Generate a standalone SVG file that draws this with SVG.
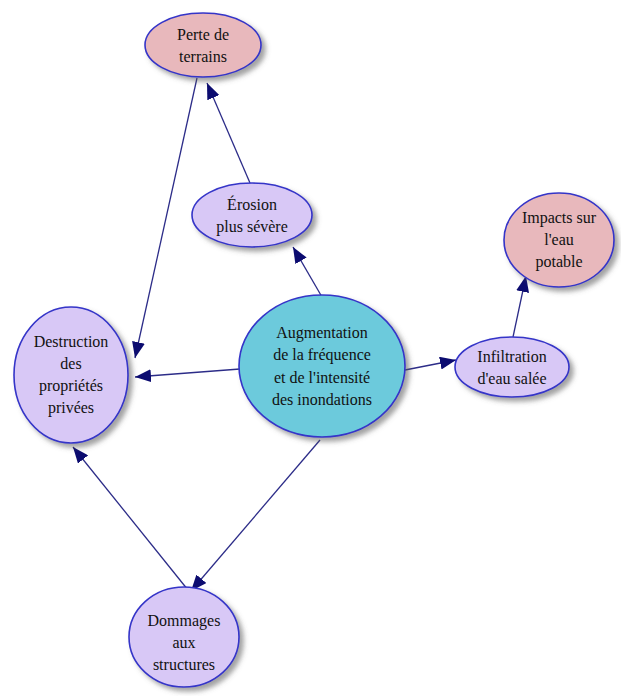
<svg xmlns="http://www.w3.org/2000/svg" width="621" height="696" viewBox="0 0 621 696">
<style>
.n{stroke:#3434c8;stroke-width:1.6}
.pink{fill:#e8b8bc}
.lav{fill:#d8c8f6}
.cyan{fill:#6ccadc}
.t{font-family:"Liberation Serif","DejaVu Serif",serif;font-size:16px;fill:#111;text-anchor:middle}
.e{stroke:#2c2c88;stroke-width:1.3;fill:none;marker-end:url(#ah)}
</style>
<defs>
<marker id="ah" viewBox="0 0 16 13" refX="16" refY="6.5" markerWidth="16" markerHeight="13" markerUnits="userSpaceOnUse" orient="auto">
<path d="M0,0 L16,6.5 L0,13 Z" fill="#0c0c70"/>
</marker>
<filter id="sh" x="-20%" y="-20%" width="150%" height="150%">
<feDropShadow dx="4" dy="4" stdDeviation="2.5" flood-color="#555" flood-opacity="0.55"/>
</filter>
</defs>
<rect width="621" height="696" fill="#fff"/>
<g id="connectors">
<line class="e" x1="250" y1="183" x2="207" y2="83"/>
<line class="e" x1="322" y1="297" x2="293" y2="247"/>
<line class="e" x1="197" y1="78" x2="135" y2="358"/>
<line class="e" x1="240" y1="369" x2="135" y2="377"/>
<line class="e" x1="405" y1="370" x2="456" y2="360"/>
<line class="e" x1="513" y1="337" x2="526" y2="276"/>
<line class="e" x1="320" y1="440" x2="191" y2="591"/>
<line class="e" x1="188" y1="590" x2="73" y2="447"/>
</g>
<g id="perte">
<ellipse class="n pink" cx="203" cy="45" rx="58" ry="32" filter="url(#sh)"/>
<text class="t" x="203" y="40">Perte de</text>
<text class="t" x="203" y="62">terrains</text>
</g>
<g id="erosion">
<ellipse class="n lav" cx="252" cy="215" rx="60" ry="32" filter="url(#sh)"/>
<text class="t" x="252" y="210">Érosion</text>
<text class="t" x="252" y="232">plus sévère</text>
</g>
<g id="impacts">
<ellipse class="n pink" cx="559" cy="240" rx="55" ry="47" filter="url(#sh)"/>
<text class="t" x="559" y="223">Impacts sur</text>
<text class="t" x="559" y="245">l'eau</text>
<text class="t" x="559" y="267">potable</text>
</g>
<g id="augmentation">
<ellipse class="n cyan" cx="322" cy="366" rx="83" ry="71" filter="url(#sh)"/>
<text class="t" x="322" y="338">Augmentation</text>
<text class="t" x="322" y="360">de la fréquence</text>
<text class="t" x="322" y="383">et de l'intensité</text>
<text class="t" x="322" y="405">des inondations</text>
</g>
<g id="destruction">
<ellipse class="n lav" cx="71" cy="375" rx="57" ry="68" filter="url(#sh)"/>
<text class="t" x="71" y="347">Destruction</text>
<text class="t" x="71" y="369">des</text>
<text class="t" x="71" y="391">propriétés</text>
<text class="t" x="71" y="413">privées</text>
</g>
<g id="infiltration">
<ellipse class="n lav" cx="512" cy="367" rx="57" ry="30" filter="url(#sh)"/>
<text class="t" x="512" y="362">Infiltration</text>
<text class="t" x="512" y="384">d'eau salée</text>
</g>
<g id="dommages">
<ellipse class="n lav" cx="184" cy="637" rx="55" ry="50" filter="url(#sh)"/>
<text class="t" x="184" y="626">Dommages</text>
<text class="t" x="184" y="648">aux</text>
<text class="t" x="184" y="670">structures</text>
</g>
</svg>
